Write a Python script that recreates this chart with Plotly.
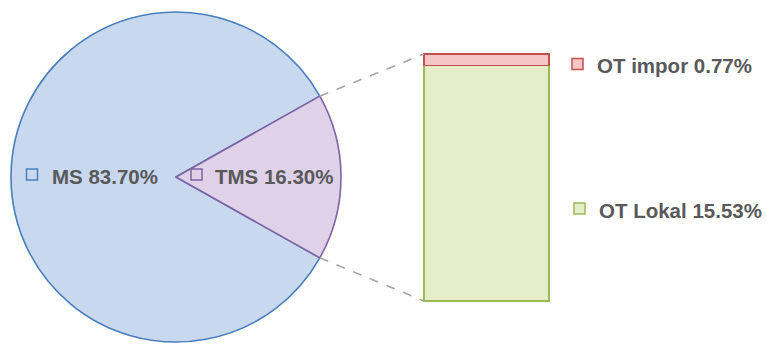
import plotly.graph_objects as go

# Shares of the whole (pie) and the breakdown of TMS (stacked bar)
pie_labels = ["MS", "TMS"]
pie_values = [83.70, 16.30]
bar_labels = ["OT Lokal", "OT impor"]
bar_values = [15.53, 0.77]

W, H = 766, 345

def px(x):
    return x / W

def py(y):
    return 1 - y / H

# Pie geometry (pixels)
cx, cy, r = 176, 177, 165
# Bar geometry (pixels)
bar_left, bar_right, bar_top, bar_bottom = 424, 549, 54, 301

pie_fill = ["#c7d8ef", "#dfd1e8"]
pie_line = ["#4a7ebb", "#7f63a3"]
bar_fill = ["#e5eec8", "#f6c6c6"]
bar_line = ["#9bbb59", "#c0504d"]
text_col = "#595959"

fig = go.Figure()

tms_angle = 360 * pie_values[1] / sum(pie_values)
fig.add_trace(go.Pie(
    labels=pie_labels, values=pie_values, sort=False,
    direction="clockwise", rotation=90 + tms_angle / 2,
    marker=dict(colors=pie_fill, line=dict(color=pie_line, width=1.6)),
    textinfo="none", hoverinfo="label+percent", showlegend=False,
    domain=dict(x=[px(cx - r), px(cx + r)], y=[py(cy + r), py(cy - r)]),
))

# Stacked bar: axis ranges padded so the bar outline is not clipped
total = sum(bar_values)
pad_x = 0.05
pad_y = 0.25
scale_y = (bar_bottom - bar_top) / total
dom_x = [px(bar_left - pad_x * (bar_right - bar_left)),
         px(bar_right + pad_x * (bar_right - bar_left))]
dom_y = [py(bar_bottom + pad_y * scale_y), py(bar_top - pad_y * scale_y)]

for name, val, fc, lc in zip(bar_labels, bar_values, bar_fill, bar_line):
    fig.add_trace(go.Bar(
        x=[0], y=[val], width=1, name=name,
        marker=dict(color=fc, line=dict(color=lc, width=1.6)),
        showlegend=False,
    ))

fig.update_layout(
    barmode="stack",
    xaxis=dict(domain=dom_x, range=[-0.5 - pad_x, 0.5 + pad_x], visible=False, fixedrange=True),
    yaxis=dict(domain=dom_y, range=[-pad_y, total + pad_y], visible=False, fixedrange=True),
    width=W, height=H,
    margin=dict(l=0, r=0, t=0, b=0),
    paper_bgcolor="white", plot_bgcolor="rgba(0,0,0,0)",
)

# Connector lines from the TMS slice edges to the bar corners
import math
half = math.radians(tms_angle / 2)
ex = cx + r * math.cos(half)
ey_top = cy - r * math.sin(half)
ey_bot = cy + r * math.sin(half)
for (x0, y0, x1, y1) in [(ex, ey_top, bar_left, bar_top), (ex, ey_bot, bar_left, bar_bottom)]:
    fig.add_shape(type="line", xref="paper", yref="paper",
                  x0=px(x0), y0=py(y0), x1=px(x1), y1=py(y1),
                  line=dict(color="#a6a6a6", width=1.6, dash="dash"))

# Labels with small square keys
font = dict(family="Liberation Sans, Arial, sans-serif", size=20.5, color=text_col)
labels = [
    (f"{pie_labels[0]} {pie_values[0]:.2f}%", 32, 174.5, 50, pie_fill[0], pie_line[0]),
    (f"{pie_labels[1]} {pie_values[1]:.2f}%", 196.5, 174.5, 213, pie_fill[1], pie_line[1]),
    (f"{bar_labels[1]} {bar_values[1]:.2f}%", 577.5, 64, 595, bar_fill[1], bar_line[1]),
    (f"{bar_labels[0]} {bar_values[0]:.2f}%", 579.5, 208.5, 597, bar_fill[0], bar_line[0]),
]
s = 5.5
for text, kx, ky, tx, fc, lc in labels:
    fig.add_shape(type="rect", xref="paper", yref="paper",
                  x0=px(kx - s), x1=px(kx + s), y0=py(ky + s), y1=py(ky - s),
                  fillcolor=fc, line=dict(color=lc, width=1.5))
    fig.add_annotation(text=f"<b>{text}</b>", xref="paper", yref="paper",
                       x=px(tx), y=py(ky + 1.5), xanchor="left", yanchor="middle",
                       showarrow=False, font=font)

fig.write_html("out.html")
